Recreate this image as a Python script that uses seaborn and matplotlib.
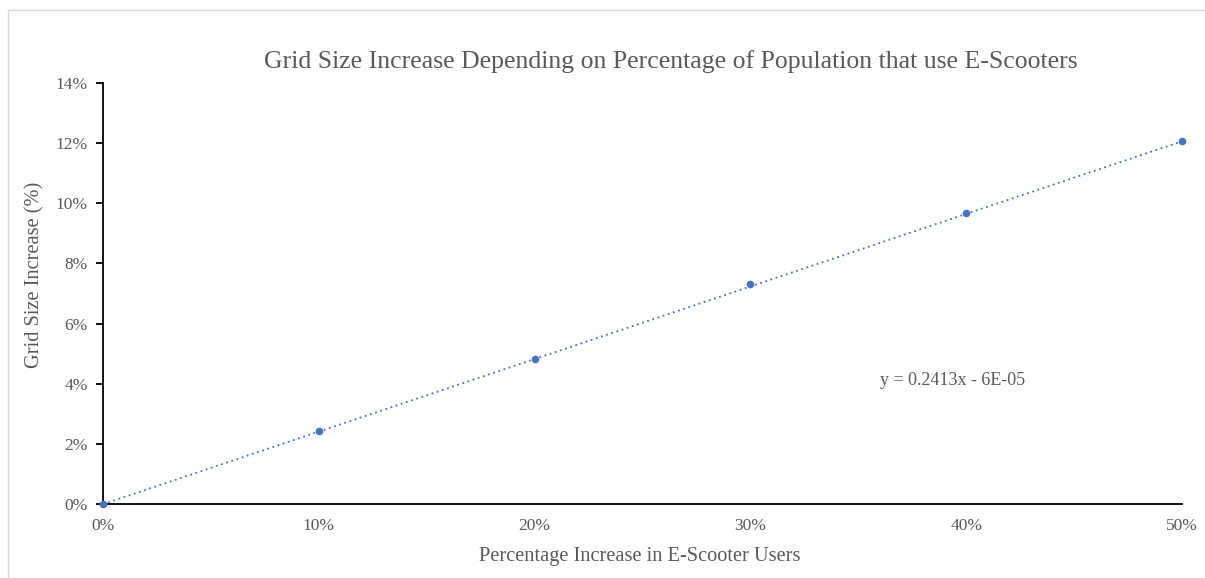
import numpy as np
import pandas as pd
import matplotlib
matplotlib.use("Agg")
import matplotlib.pyplot as plt
import seaborn as sns
from matplotlib.patches import Rectangle
from matplotlib.ticker import PercentFormatter, MultipleLocator

# Share of population using e-scooters vs. resulting grid size increase
scooter_share = [0.0, 0.10, 0.20, 0.30, 0.40, 0.50]
grid_increase = [0.0, 0.0243, 0.0483, 0.0731, 0.0967, 0.1207]

# Linear trendline coefficients
slope = 0.2413
intercept = -6e-05
trend_label = "y = 0.2413x - 6E-05"

title = "Grid Size Increase Depending on Percentage of Population that use E-Scooters"
xlabel = "Percentage Increase in E-Scooter Users"
ylabel = "Grid Size Increase (%)"

sns.set_theme(style="white")
plt.rcParams["font.family"] = ["Liberation Serif", "DejaVu Serif"]

blue = "#4472C4"
gray = "#595959"

W, H = 1205, 578

df = pd.DataFrame({"x": scooter_share, "y": grid_increase})
trend_x = np.linspace(min(scooter_share), max(scooter_share), 50)
trend_df = pd.DataFrame({"x": trend_x, "y": slope * trend_x + intercept})

fig = plt.figure(figsize=(W / 100, H / 100), dpi=100)
ax = fig.add_axes([103 / W, 1 - 504 / H, (1182 - 103) / W, (504 - 83) / H])

sns.lineplot(data=trend_df, x="x", y="y", ax=ax, color=blue, lw=1.3,
             linestyle=(0, (1, 2)))
sns.scatterplot(data=df, x="x", y="y", ax=ax, color=blue, s=30,
                edgecolor=blue, linewidth=0, zorder=5, clip_on=False)

ax.set_xlim(0, 0.5)
ax.set_ylim(0, 0.14)
ax.xaxis.set_major_locator(MultipleLocator(0.1))
ax.yaxis.set_major_locator(MultipleLocator(0.02))
ax.xaxis.set_major_formatter(PercentFormatter(1.0, decimals=0))
ax.yaxis.set_major_formatter(PercentFormatter(1.0, decimals=0))

for side in ["top", "right"]:
    ax.spines[side].set_visible(False)
for side in ["left", "bottom"]:
    ax.spines[side].set_color("black")
    ax.spines[side].set_linewidth(1.3)

ax.tick_params(axis="y", which="major", direction="out", length=5, width=1.3,
               color="black", left=True, labelsize=12.5, labelcolor=gray, pad=6)
ax.tick_params(axis="x", which="major", length=0, labelsize=12.5,
               labelcolor=gray, pad=10)

ax.set_xlabel(xlabel, fontsize=14.7, color=gray)
ax.set_ylabel(ylabel, fontsize=14.7, color=gray)
ax.xaxis.set_label_coords(640 / W, 1 - 557 / H, transform=fig.transFigure)
ax.yaxis.set_label_coords(35 / W, 1 - 274.5 / H, transform=fig.transFigure)
ax.xaxis.label.set_va("center")
ax.yaxis.label.set_va("center")

fig.text((265 + 1077) / 2 / W, 1 - 68 / H, title, ha="center", va="baseline",
         fontsize=18.5, color=gray)

ax.text(0.3937, 0.041, trend_label, fontsize=13, color=gray, ha="center",
        va="center", transform=ax.transData)

fig.patches.append(Rectangle((8 / W, -0.01), 1.0, 1 - 10 / H + 0.01,
                             transform=fig.transFigure, fill=False,
                             edgecolor="#D9D9D9", linewidth=1))

fig.savefig("out.png", dpi=100)
